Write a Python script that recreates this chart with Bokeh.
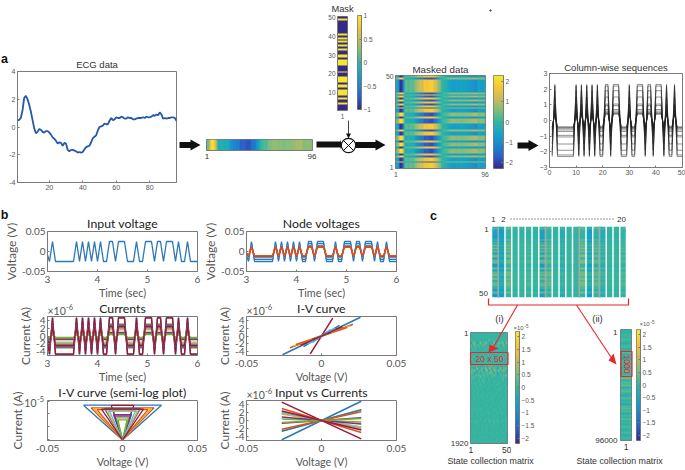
import numpy as np
from math import pi
from bokeh.plotting import figure
from bokeh.models import Range1d, FixedTicker, LinearAxis, Column, LinearColorMapper
from bokeh.core.properties import value
from bokeh.embed import file_html
from bokeh.resources import INLINE

# ---------- data ----------
ecg = [0.48,0.52,0.65,1.2,2.1,2.25,2.0,1.6,1.1,0.5,-0.1,-0.45,-0.35,-0.15,-0.2,-0.35,-0.4,-0.3,-0.3,-0.4,
       -0.55,-0.75,-0.85,-1.0,-1.2,-1.1,-1.15,-1.35,-1.15,-1.2,-1.65,-1.75,-1.65,-1.65,-1.7,-1.75,-1.85,-1.8,-1.85,-1.8,
       -1.6,-1.45,-1.4,-1.35,-1.1,-0.8,-0.7,-0.6,-0.25,0.0,0.05,0.1,0.25,0.2,0.2,0.45,0.65,0.5,0.55,0.7,
       0.65,0.65,0.75,0.7,0.6,0.6,0.7,0.65,0.65,0.55,0.55,0.6,0.65,0.65,0.65,0.7,0.65,0.75,0.7,0.7,
       0.75,0.85,0.8,0.9,0.85,1.05,0.9,0.6,0.65,0.6,0.65,0.65,0.7,0.7,0.65,0.45]
mask_high = [2,10,12,14,16,18,21,22,24,25,26,30,33,34,35,37,38,40,41,42,44,47]
mask = [1 if i in mask_high else -1 for i in range(1, 51)]
column_levels = [0.4, 0.45, 0.5, 0.6, 0.7, 0.95, 1.05, 1.5, 1.9, 2.2, 2.3]
input_volts = [0.0] + [0.025 * m for m in mask] + [-0.025]
node_gains = [1.0, 0.78, 0.62, 0.5, 0.45, 0.42]
node_colors = ["#2a78b8", "#2a78b8", "#4dbeee", "#a2142f", "#d9541e", "#d9541e"]
curve_imax = [4.8, 3.0, 2.6, 0.7, 0.35, 1.7, 4.6, 2.7, 2.2, 1.6, 0.9, 0.5, 2.0, 2.4]
curve_vmax = [0.026, 0.021, 0.019, 0.005, 0.003, 0.006, 0.0075, 0.012, 0.017, 0.010, 0.006, 0.004, 0.009, 0.014]
curve_sign = [1, -1, 1, 1, -1, -1, -1, 1, 1, -1, -1, 1, -1, -1]
matlab_colors = ["#2a78b8", "#d9541e", "#edb120", "#7e2f8e", "#77ac30", "#4dbeee", "#a2142f"]
strip_base = [-0.15,-0.4,0.2,0.0,0.0,0.05,0.0,-0.15,0.1,0.0,-0.1,0.0,0.0,0.2,-0.3,0.1,-0.1,0.0,0.0,0.05]
strip_gain = [0.45,0.2,0.2,0.05,0.05,0.1,0.05,0.4,0.2,0.05,0.15,0.05,0.03,0.25,0.25,0.2,0.15,0.05,0.05,0.12]
strip_gaps = [1, 8, 13, 16]
state_amp = [0.1,0.1,0.15,0.4,0.7,0.5,0.3,0.2,0.15,0.2,0.15,0.2,0.2,0.25,0.4,0.8,0.9,0.55,0.7,0.4,0.3,0.2,0.25,0.15,
             0.2,0.15,0.1,0.15,0.2,0.1,0.12,0.2,0.1,0.15,0.25,0.12,0.1,0.2,0.3,0.12,0.15,0.1,0.22,0.12,0.1,0.15,0.1,0.12]
state_col = [0.1,-0.2,0.05,0.3,-0.1,0.35,-0.4,0.1,0.2,-0.15,0.4,0.0,-0.3,0.15,0.05,0.3,-0.2,0.1,-0.35,0.25,0.0,0.45,-0.1,0.1,-0.25,
             0.2,0.3,-0.3,0.05,0.15,-0.1,0.4,-0.2,0.0,0.25,-0.05,0.35,-0.3,0.1,-0.15,0.2,0.0,0.3,-0.25,0.15,-0.1,0.05,0.2,-0.2,0.1]
state_long = [0.0,-0.1,0.05,0.1,-0.05,0.2,0.0,-0.2,0.1,0.25,-0.1,0.0,0.3,-0.15,0.1,-0.3,0.05,0.2,0.0,0.15,-0.1,0.1,0.3,-0.25,0.05,
              0.2,0.4,-0.1,0.25,0.1,0.35,-0.2,0.15,0.3,0.0,-0.3,0.1,0.2,-0.15,0.05,-0.35,0.15,0.3,-0.1,0.2,-0.25,0.1,0.0,0.25,-0.3,
              0.1,-0.15,0.2,0.0,-0.1,0.15,0.05,-0.2,0.1,0.0]
parula_stops = ["#352a87", "#2a5ec8", "#1c86cf", "#15a5c6", "#33b5a2", "#80bd7c", "#c9ba5b", "#f5c637", "#f5e82c"]

# ---------- helpers ----------
def make_palette(stops, n=256):
    rgb = np.array([[int(s[i:i+2], 16) for i in (1, 3, 5)] for s in stops], float)
    xs = np.linspace(0, 1, len(stops))
    f = np.linspace(0, 1, n)
    return ["#%02x%02x%02x" % tuple(int(round(np.interp(v, xs, rgb[:, k]))) for k in range(3)) for v in f]
PARULA = make_palette(parula_stops)

def img(p, arr, x, y, dw, dh, lo, hi):
    p.image(image=[np.asarray(arr, float)], x=x, y=y, dw=dw, dh=dh,
            color_mapper=LinearColorMapper(palette=PARULA, low=lo, high=hi))

AX = "#7a7a7a"; TXT = "#555555"; SANS = "Liberation Sans"; MYR = "Lato"
children = []

def panel(L, T, R, B, xr, yr, xt=(), yt=(), xl=None, yl=None, title=None, font=SANS, size=7.5,
          tsize=10.5, tcolor="#333333", y_type="linear", tick=2, border=(48, 12, 24, 42),
          label_size=10.5, ylabel_size=None, xstand=1, ystand=1, ylabstand=2, xlabstand=2, tstand=1, toffset=0, lw=1):
    bl, br, bt, bb = border
    p = figure(width=int(R-L+bl+br), height=int(B-T+bt+bb), x_range=Range1d(*xr), y_range=Range1d(*yr),
               y_axis_type=y_type, output_backend="svg", toolbar_location=None, frame_align=False,
               min_border_left=bl, min_border_right=br, min_border_top=bt, min_border_bottom=bb,
               background_fill_alpha=0, border_fill_alpha=0, outline_line_color=AX, outline_line_width=lw,
               styles={"position": "absolute", "left": f"{int(L-bl)}px", "top": f"{int(T-bt)}px"})
    p.grid.visible = False
    for ax, ticks, lab, st, lst, ls in ((p.xaxis[0], xt, xl, xstand, xlabstand, label_size),
                                        (p.yaxis[0], yt, yl, ystand, ylabstand, ylabel_size or label_size)):
        ax.ticker = FixedTicker(ticks=[t for t, _ in ticks])
        ax.major_label_overrides = {t: s for t, s in ticks}
        ax.major_tick_in = tick; ax.major_tick_out = 0; ax.minor_tick_line_color = None
        ax.axis_line_color = AX; ax.major_tick_line_color = AX
        ax.major_label_text_font = font; ax.major_label_text_font_size = f"{size}px"
        ax.major_label_text_color = TXT; ax.major_label_standoff = st
        if lab:
            ax.axis_label = lab; ax.axis_label_text_font = font
            ax.axis_label_text_font_size = f"{ls}px"; ax.axis_label_text_font_style = "normal"
            ax.axis_label_text_color = TXT; ax.axis_label_standoff = lst
    if title:
        p.title.text = title; p.title.align = "center"; p.title.text_font = font
        p.title.text_font_size = f"{tsize}px"; p.title.text_font_style = "normal"
        p.title.text_color = tcolor; p.title.standoff = tstand; p.title.offset = toffset
    children.append(p)
    return p

def cbar(L, T, R, B, lo, hi, ticks):
    p = panel(L, T, R, B, (0, 1), (lo, hi), (), ticks, border=(2, 30, 4, 4), size=6.5, tick=0)
    p.yaxis.visible = False; p.xaxis.visible = False
    right = LinearAxis(ticker=FixedTicker(ticks=[t for t, _ in ticks]),
                       major_label_overrides={t: s for t, s in ticks},
                       major_tick_in=2, major_tick_out=0, minor_tick_line_color=None, axis_line_color=AX,
                       major_tick_line_color=AX, major_label_text_font=SANS, major_label_text_font_size="6.5px",
                       major_label_text_color=TXT, major_label_standoff=2)
    p.add_layout(right, "right")
    img(p, np.linspace(lo, hi, 256).reshape(-1, 1), 0, lo, 1, hi-lo, lo, hi)
    return p

def ticks_of(vals, labs=None):
    return [(v, (labs[i] if labs else str(v))) for i, v in enumerate(vals)]

# ---------- panel a ----------
x96 = list(range(1, 97))
p = panel(17, 71, 176, 182, (1, 96), (-4, 4), ticks_of([20, 40, 60, 80]), ticks_of([-4, -2, 0, 2, 4]),
          title="ECG data", size=7, tsize=9.5, tstand=3, xstand=2, ystand=2)
p.line(x96, ecg, line_color="#2358ab", line_width=1.8)

p = panel(206, 139, 312, 150, (0.5, 96.5), (0, 1), ticks_of([1, 96]), (), size=8, xstand=3, tick=0, lw=1)
p.xaxis.major_label_text_color = "#333333"
img(p, np.array(ecg).reshape(1, -1), 0.5, 0, 96, 1, -2.3, 2.3)

mask_arr = np.array(mask, float)
p = panel(337, 16, 347, 110, (0.5, 1.5), (0.5, 50.5), ticks_of([1]), ticks_of([10, 20, 30, 40, 50]),
          title="Mask", size=6.5, tsize=9.3, xstand=3, tstand=6, toffset=6, tick=0, ystand=2)
img(p, mask_arr[::-1].reshape(-1, 1), 0.5, 0.5, 1, 50, -1, 1)
cbar(357, 15, 361, 109, -1, 1, ticks_of([-1, -0.5, 0, 0.5, 1], ["\u22121", "\u22120.5", "0", "0.5", "1"]))

masked = np.outer(mask_arr[::-1], np.array(ecg))
p = panel(395, 75, 485, 168, (0.5, 96.5), (0.5, 50.5), ticks_of([1, 96]), ticks_of([1, 50]),
          title="Masked data", size=6.8, tsize=9.8, tstand=2, tick=0, xstand=3, ystand=2)
img(p, masked, 0.5, 0.5, 96, 50, -2.27, 2.27)
cbar(493, 75, 503, 168, -2.27, 2.27, ticks_of([-2, -1, 0, 1, 2], ["\u22122", "\u22121", "0", "1", "2"]))

p = panel(549, 73, 682, 167, (0, 50), (-3, 3), ticks_of([0, 10, 20, 30, 40, 50]),
          ticks_of([-3, -2, -1, 0, 1, 2, 3], ["\u22123", "\u22122", "\u22121", "0", "1", "2", "3"]),
          title="Column-wise sequences", size=7, tsize=9.5, tstand=2, border=(48, 3, 24, 42), xstand=2, ystand=2)
x50 = list(range(1, 51))
p.multi_line([x50] * len(column_levels), [list(mask_arr * v) for v in column_levels], line_color="#222222", line_width=0.5)

# ---------- panel b ----------
t = [2.98 + 0.06 * i for i in range(len(input_volts))]
vin = np.array(input_volts)
x3 = ticks_of([3, 4, 5, 6])
xv = ticks_of([-0.05, 0, 0.05], ["-0.05", "0", "0.05"])
yv = ticks_of([-0.05, 0, 0.05], ["-0.05", "0", "0.05"])
yc = ticks_of([-4, -2, 0, 2, 4], ["-4", "-2", "0", "2", "4"])
bopts = dict(font=MYR, size=10, tsize=12.3, tcolor="#222222", label_size=10.8, ylabel_size=12, xstand=4, ystand=2, tstand=1, tick=2,
             border=(48, 12, 24, 28), xlabstand=0, ylabstand=0)

p = panel(47, 231, 197, 273, (3, 6), (-0.05, 0.05), x3, yv, "Time (sec)", "Voltage (V)", "Input voltage", **bopts)
p.line(t, vin, line_color=matlab_colors[0], line_width=1.3)

p = panel(246, 231, 396, 273, (3, 6), (-0.05, 0.05), x3, yv, "Time (sec)", "Voltage (V)", "Node voltages", **bopts)
for g, c in zip(node_gains, node_colors):
    p.line(t, vin * g, line_color=c, line_width=1.3)

p = panel(47, 316, 197, 357, (3, 6), (-5, 5), x3, yc, "Time (sec)", "Current (A)", "Currents", **bopts)
for i, c in enumerate(curve_imax):
    p.line(t, vin / 0.025 * c, line_color=matlab_colors[i % 7], line_width=1.4)

p = panel(246, 316, 396, 357, (-0.05, 0.05), (-5, 5), xv, yc, "Voltage (V)", "Current (A)", "I-V curve", **bopts)
for i, (c, v) in enumerate(zip(curve_imax, curve_vmax)):
    p.line([-v, v], [-c, c], line_color=matlab_colors[i % 7], line_width=1.5)

p = panel(47, 400, 197, 442, (-0.05, 0.05), (0.9e-8, 1.1e-5),
          xv, [(1e-8, ""), (1e-7, ""), (1e-6, ""), (1e-5, "")], "Voltage (V)", "Current (A)",
          "I-V curve (semi-log plot)", y_type="log", **dict(bopts, ylabstand=23))
for i, (c, v) in enumerate(zip(curve_imax, curve_vmax)):
    p.line([-v, 0, v, -v], [c * 1e-6, 1e-8, c * 1e-6, c * 1e-6], line_color=matlab_colors[i % 7], line_width=1.3)

p = panel(246, 400, 396, 442, (-0.05, 0.05), (-5, 5), xv, yc, "Voltage (V)", "Current (A)", "Input vs Currents", **bopts)
for i, (c, s) in enumerate(zip(curve_imax, curve_sign)):
    p.line([-0.0265, 0.0265], [-c * s, c * s], line_color=matlab_colors[i % 7], line_width=1.5)

# ---------- panel c ----------
p = panel(491, 226, 626, 297, (0, 20), (0.5, 50.5), (), (), tick=0, border=(4, 4, 4, 4))
p.xaxis.visible = False; p.yaxis.visible = False; p.outline_line_color = None
for k in strip_gaps:
    p.quad(left=[k - 0.11], right=[k + 0.11], bottom=[0.5], top=[50.5], color="#a8a8a8")
for i, (b, g) in enumerate(zip(strip_base, strip_gain)):
    col = (b + g * (mask_arr + np.roll(np.array(state_col), i * 3)))[::-1].reshape(-1, 1)
    img(p, col, i + 0.11, 0.5, 0.78, 50, -2, 2)

state_i = np.array([a * np.roll(np.array(state_col), i * 7) * 2.5 for i, a in enumerate(state_amp)])[::-1]
p = panel(470, 332, 507, 443, (0.5, 50.5), (0, 1), ticks_of([1, 50]), (), size=8.5, tick=0, border=(30, 4, 4, 20), xstand=3)
p.xaxis.major_label_text_color = "#333333"
p.yaxis.visible = False
img(p, state_i, 0.5, 0, 50, 1, -2.2, 2.2)
st = ticks_of([-2, -1.5, -1, -0.5, 0, 0.5, 1, 1.5, 2], ["\u22122", "\u22121.5", "\u22121", "\u22120.5", "0", "0.5", "1", "1.5", "2"])
cbar(515, 331, 519, 443, -2.2, 2.2, st)

p = panel(620, 329, 631, 440, (0.5, 1.5), (0, 1), ticks_of([1]), (), size=8.5, tick=0, border=(4, 4, 4, 20), xstand=3)
p.xaxis.major_label_text_color = "#333333"
p.yaxis.visible = False
img(p, np.array(state_long)[::-1].reshape(-1, 1), 0.5, 0, 1, 1, -2.2, 2.2)
cbar(636, 329, 640, 440, -2.2, 2.2, st)

# ---------- overlay: arrows, labels, panel letters ----------
ov = figure(width=685, height=470, x_range=Range1d(0, 685), y_range=Range1d(470, 0), output_backend="svg",
            toolbar_location=None, min_border=0, background_fill_alpha=0, border_fill_alpha=0, outline_line_color=None,
            frame_align=False, styles={"position": "absolute", "left": "0px", "top": "0px"})
ov.axis.visible = False; ov.grid.visible = False
children.append(ov)

def txt(x, y, s, size, color="#333333", font=SANS, align="center", style="normal", angle=0):
    ov.text([x], [y], text=[s], text_font=value(font), text_font_size=f"{size}px", text_color=color,
            text_align=align, text_baseline="middle", text_font_style=style, angle=angle)

def fat_arrow(x0, xh, x1, y, sh=3, hh=5.5):
    ov.patch([x0, xh, xh, x1, xh, xh, x0], [y-sh, y-sh, y-hh, y, y+hh, y+sh, y+sh], color="#111111", line_width=0)

for s, x, y in (("a", 4, 58), ("b", 4, 214), ("c", 433, 215)):
    txt(x, y, s, 12.5, "#111111", style="bold")
fat_arrow(179, 190, 200, 144.5)
fat_arrow(316, 340, 341, 144)
fat_arrow(355, 375, 385, 144.5)
fat_arrow(517, 528, 538, 145)
ov.line([348, 348], [120, 136], line_color="#111111", line_width=0.8)
ov.patch([345.5, 350.5, 348], [133, 133, 138], color="#111111", line_width=0)
ov.circle([348], [145], radius=7.2, fill_color="white", line_color="#111111", line_width=1.2)
ov.line([343, 353], [140, 150], line_color="#111111", line_width=1)
ov.line([343, 353], [150, 140], line_color="#111111", line_width=1)
ov.scatter([490], [10], size=1.5, color="#555555")

# exponents
for x, y, e in ((47, 310, "-6"), (246, 310, "-6"), (246, 394, "-6")):
    txt(x, y, "\u00d710", 10.5, TXT, MYR, "left")
    txt(x + 18.5, y - 4, e, 7.5, TXT, MYR, "left")
txt(36, 402, "10", 10.5, TXT, MYR, "right")
txt(36.5, 398, "-5", 7.5, TXT, MYR, "left")

# panel c texts and red marks
RED = "#e8262d"
txt(493, 219, "1", 8, "#333333"); txt(503, 219, "2", 8, "#333333"); txt(621, 219, "20", 8, "#333333")
ov.line([510, 613], [218.5, 218.5], line_color="#333333", line_width=1, line_dash="1 2")
txt(486, 229, "1", 8); txt(483, 293, "50", 8)
ov.line([488, 488, 628, 628], [298, 304.5, 304.5, 298], line_color=RED, line_width=1.2)
ov.line([517, 491], [304.5, 350], line_color=RED, line_width=1.1)
ov.patch([489, 488, 498], [344, 352, 348], color=RED, line_width=0)
ov.line([576, 614], [304.5, 362], line_color=RED, line_width=1.1)
ov.patch([616, 608, 613], [364, 360, 353], color=RED, line_width=0)
ov.quad(left=[470], right=[507.5], top=[352], bottom=[364], fill_color=None, line_color=RED, line_width=1.2)
ov.quad(left=[620.5], right=[631.5], top=[351], bottom=[376], fill_color=None, line_color=RED, line_width=1.2)
txt(489, 358, "20 x 50", 8.5, RED)
txt(626, 363.5, "1000", 8.5, RED, angle=-pi / 2)
txt(499, 318, "(i)", 9.5); txt(597, 318, "(ii)", 9.5)
txt(518, 327, "\u00d710", 6, TXT); txt(526, 325, "-5", 4.5, TXT)
txt(644, 323, "\u00d710", 6, TXT); txt(652, 321, "-5", 4.5, TXT)
txt(468, 332.5, "1", 8, align="right"); txt(468, 443, "1920", 8, align="right")
txt(617, 331.5, "1", 8, align="right"); txt(617, 440, "96000", 8, align="right")
txt(490, 460.5, "State collection matrix", 8.8); txt(619, 460.5, "State collection matrix", 8.8)

page = Column(children=children, width=685, height=470, sizing_mode="fixed",
              styles={"position": "absolute", "left": "0px", "top": "0px"})
open("out.html", "w").write(file_html(page, INLINE))
